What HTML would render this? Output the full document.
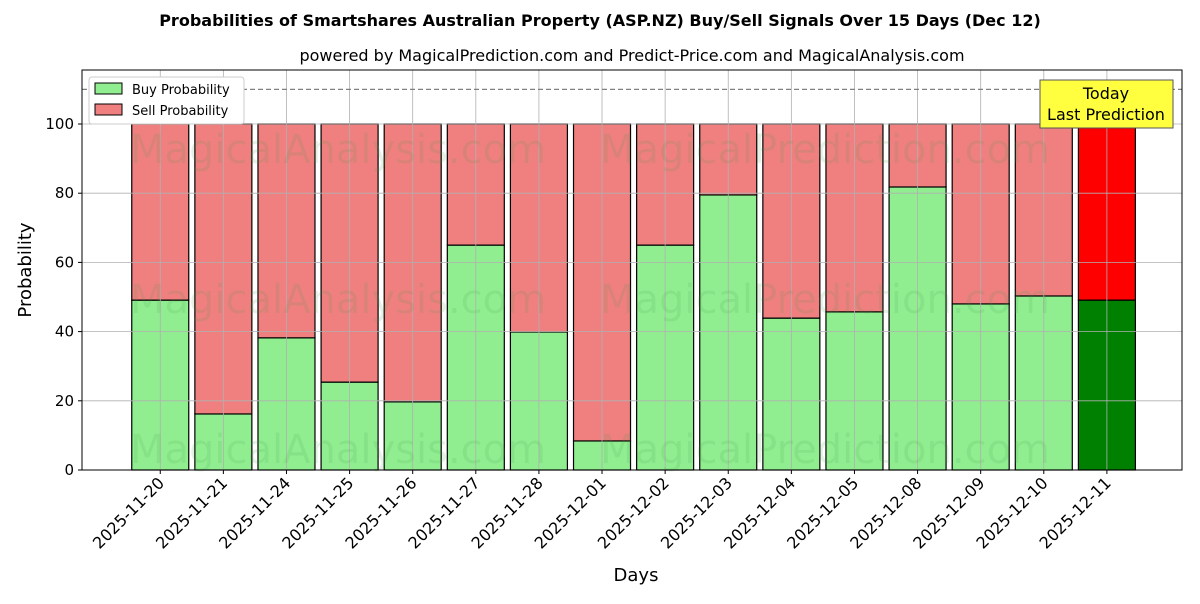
<!DOCTYPE html>
<html><head><meta charset="utf-8"><style>
body{margin:0;background:#fff;font-family:"DejaVu Sans","Liberation Sans",sans-serif;}
</style></head><body>
<svg id="c" width="1200" height="600" xmlns="http://www.w3.org/2000/svg">
<text x="600" y="26" text-anchor="middle" font-size="16" font-weight="bold">Probabilities of Smartshares Australian Property (ASP.NZ) Buy/Sell Signals Over 15 Days (Dec 12)</text>
<text x="632" y="61" text-anchor="middle" font-size="16">powered by MagicalPrediction.com and Predict-Price.com and MagicalAnalysis.com</text>
<g id="bars"></g>
<g id="grid"></g>
<g id="wm" fill="#4a9a4a" opacity="0.13" font-size="40">
<text x="130" y="163">MagicalAnalysis.com</text>
<text x="600" y="163">MagicalPrediction.com</text>
<text x="130" y="313">MagicalAnalysis.com</text>
<text x="600" y="313">MagicalPrediction.com</text>
<text x="130" y="463">MagicalAnalysis.com</text>
<text x="600" y="463">MagicalPrediction.com</text>
</g>
<g id="axes"></g>
</svg>
<script>
const categories=["2025-11-20","2025-11-21","2025-11-24","2025-11-25","2025-11-26","2025-11-27","2025-11-28","2025-12-01","2025-12-02","2025-12-03","2025-12-04","2025-12-05","2025-12-08","2025-12-09","2025-12-10","2025-12-11"];
const buyValues=[49.1,16.2,38.2,25.4,19.7,65.0,39.9,8.4,65.0,79.5,43.9,45.7,81.8,48.0,50.3,49.1];
const yTicks=[0,20,40,60,80,100];
const NS="http://www.w3.org/2000/svg";
const L=82,R=1182,T=70,B=470;
const xmin=-1.24,xmax=16.19;
const x=i=>L+(i-xmin)/(xmax-xmin)*(R-L);
const y=v=>B-v*3.46;
const bw=57;
function mk(p,tag,a){const e=document.createElementNS(NS,tag);for(const k in a)e.setAttribute(k,a[k]);p.appendChild(e);return e;}
const g=document.getElementById('grid'),bars=document.getElementById('bars'),ax=document.getElementById('axes');
yTicks.forEach(t=>{const l=mk(g,'line',{x1:L,x2:R,y1:y(t),y2:y(t),stroke:'#b0b0b0','stroke-width':0.8});

const tx=mk(ax,'text',{x:L-8,y:y(t)+5,'text-anchor':'end','font-size':15});tx.textContent=t;

mk(ax,'line',{x1:L-4,x2:L,y1:y(t),y2:y(t),stroke:'#000'});});
categories.forEach((c,i)=>{const l=mk(g,'line',{x1:x(i),x2:x(i),y1:T,y2:B,stroke:'#b0b0b0','stroke-width':0.8});

const last=i===categories.length-1;const b=buyValues[i];
const r1=mk(bars,'rect',{x:x(i)-bw/2,y:y(b),width:bw,height:y(0)-y(b),fill:last?'#008000':'#90ee90',stroke:'#000','stroke-width':1.2});

const r2=mk(bars,'rect',{x:x(i)-bw/2,y:y(100),width:bw,height:y(b)-y(100),fill:last?'#ff0000':'#f08080',stroke:'#000','stroke-width':1.2});

mk(ax,'line',{x1:x(i),x2:x(i),y1:B,y2:B+4,stroke:'#000'});
const tx=mk(ax,'text',{x:x(i)+5,y:B+14,'text-anchor':'end','font-size':16,transform:`rotate(-45 ${x(i)+5} ${B+14})`});tx.textContent=c;
});
const d=mk(ax,'line',{x1:L,x2:R,y1:y(110),y2:y(110),stroke:'#808080','stroke-width':1.2,'stroke-dasharray':'5,3'});

const fr=mk(ax,'rect',{x:L,y:T,width:R-L,height:B-T,fill:'none',stroke:'#000','stroke-width':1});

</script>
<svg style="position:absolute;left:0;top:0" width="1200" height="600" xmlns="http://www.w3.org/2000/svg">
<text x="636" y="581" text-anchor="middle" font-size="18">Days</text>
<text x="31" y="270" text-anchor="middle" font-size="18" transform="rotate(-90 31 270)">Probability</text>
<g>
<rect x="89" y="77" width="155" height="47" fill="#fff" stroke="#ccc" rx="3"/>
<rect x="95" y="83" width="27" height="11" fill="#90ee90" stroke="#000"/>
<text x="132" y="94" font-size="13">Buy Probability</text>
<rect x="95" y="104" width="27" height="11" fill="#f08080" stroke="#000"/>
<text x="132" y="115" font-size="13">Sell Probability</text>
</g>
<g>
<rect x="1040" y="80" width="133" height="48" fill="#ffff40" stroke="#555"/>
<text x="1106" y="99" text-anchor="middle" font-size="16">Today</text>
<text x="1106" y="120" text-anchor="middle" font-size="16">Last Prediction</text>
</g>
</svg>
</body></html>
